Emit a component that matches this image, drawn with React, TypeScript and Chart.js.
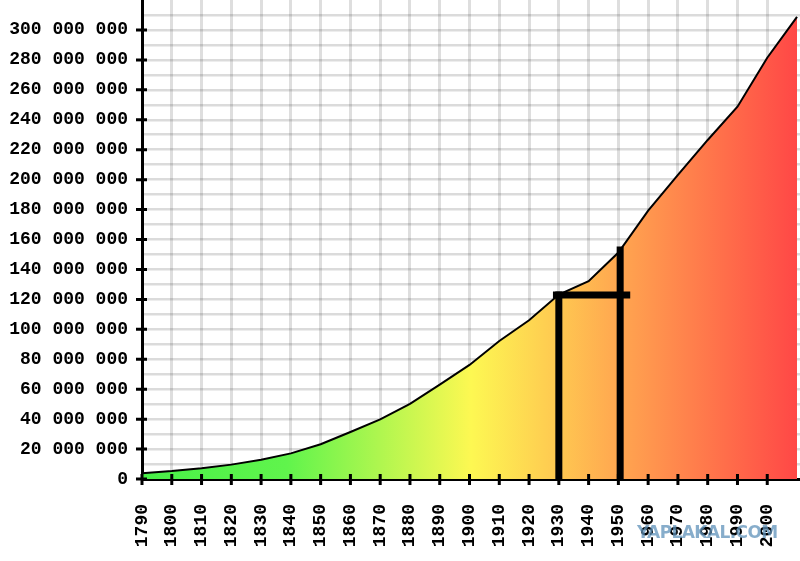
import { useEffect, useRef } from 'react';
import Chart from 'chart.js/auto';

// census years and population in millions
const years = [1790, 1800, 1810, 1820, 1830, 1840, 1850, 1860, 1870, 1880, 1890, 1900, 1910, 1920, 1930, 1940, 1950, 1960, 1970, 1980, 1990, 2000, 2010];
const population = [3.9, 5.3, 7.2, 9.6, 12.9, 17.1, 23.2, 31.4, 39.8, 50.2, 63.0, 76.2, 92.2, 106.0, 123.2, 132.2, 151.3, 179.3, 203.2, 226.5, 248.7, 281.4, 308.7];

// tick labels / grid values
const yearTicks = [1790, 1800, 1810, 1820, 1830, 1840, 1850, 1860, 1870, 1880, 1890, 1900, 1910, 1920, 1930, 1940, 1950, 1960, 1970, 1980, 1990, 2000];
const popTicks = [0, 10, 20, 30, 40, 50, 60, 70, 80, 90, 100, 110, 120, 130, 140, 150, 160, 170, 180, 190, 200, 210, 220, 230, 240, 250, 260, 270, 280, 290, 300, 310];

// hand-drawn marker: two posts and a bar between them
const postYears = [1930, 1950.6];
const postTops = [123, 153];
const barFrom = [1929.2, 1952.8];
const barLevel = 123;

const FONT = { family: '"Liberation Mono", "DejaVu Sans Mono", monospace', size: 18, weight: 'bold' as const };

const tickMarks = {
  id: 'tickMarks',
  afterDraw(chart: Chart) {
    const { ctx } = chart;
    const x = chart.scales.x;
    const y = chart.scales.y;
    ctx.save();
    ctx.strokeStyle = '#000';
    ctx.lineWidth = 3;
    ctx.beginPath();
    y.ticks.forEach((t) => {
      if (t.value % 20 !== 0) return;
      const py = y.getPixelForValue(t.value);
      ctx.moveTo(x.left - 6, py);
      ctx.lineTo(x.left + 5, py);
    });
    x.ticks.forEach((t) => {
      const px = x.getPixelForValue(t.value);
      ctx.moveTo(px, y.bottom - 5);
      ctx.lineTo(px, y.bottom + 6);
    });
    ctx.stroke();
    ctx.restore();
  },
};

const PopulationChart = () => {
  const chartRef = useRef<HTMLCanvasElement>(null);

  useEffect(() => {
    const ctx = chartRef.current?.getContext('2d');
    if (!ctx) return;

    const marker = (data: { x: number; y: number }[]) => ({
      data,
      borderColor: '#000',
      borderWidth: 7,
      borderCapStyle: 'square' as const,
      pointRadius: 0,
      fill: false,
      order: -1,
    });

    const chartInstance = new Chart(ctx, {
      type: 'line',
      data: {
        datasets: [
          {
            data: years.map((yr, i) => ({ x: yr, y: population[i] })),
            borderColor: '#000',
            borderWidth: 2,
            pointRadius: 0,
            tension: 0,
            fill: 'origin',
            backgroundColor: (c: any) => {
              const { chartArea, ctx: g } = c.chart;
              if (!chartArea) return 'rgba(0,0,0,0)';
              const grad = g.createLinearGradient(chartArea.left, 0, chartArea.right, 0);
              grad.addColorStop(0, '#48f048'); // green
              grad.addColorStop(0.22, '#60f44c');
              grad.addColorStop(0.5, '#fdf852'); // yellow
              grad.addColorStop(0.72, '#ffa850'); // orange
              grad.addColorStop(1, '#ff4646'); // red
              return grad;
            },
          },
          marker([{ x: postYears[0], y: 0 }, { x: postYears[0], y: postTops[0] }]),
          marker([{ x: postYears[1], y: 0 }, { x: postYears[1], y: postTops[1] }]),
          marker([{ x: barFrom[0], y: barLevel }, { x: barFrom[1], y: barLevel }]),
        ],
      },
      options: {
        responsive: true,
        maintainAspectRatio: false,
        animation: false,
        layout: { padding: 0 },
        plugins: { legend: { display: false }, tooltip: { enabled: false } },
        scales: {
          x: {
            type: 'linear',
            min: 1790,
            max: 2011,
            z: 1,
            afterBuildTicks: (s: any) => {
              s.ticks = yearTicks.map((v) => ({ value: v }));
            },
            afterFit: (s: any) => {
              s.height = 82;
              s.paddingLeft = 0;
              s.paddingRight = 0;
            },
            grid: { color: 'rgba(0,0,0,0.13)', lineWidth: 3, drawTicks: false },
            border: { color: '#000', width: 3 },
            ticks: {
              autoSkip: false,
              minRotation: 90,
              maxRotation: 90,
              padding: 25,
              color: '#000',
              font: FONT,
              callback: (v: any) => String(v),
            },
          },
          y: {
            type: 'linear',
            min: 0,
            max: 320,
            z: 1,
            afterBuildTicks: (s: any) => {
              s.ticks = popTicks.map((v) => ({ value: v }));
            },
            afterFit: (s: any) => {
              s.width = 142;
              s.paddingTop = 0;
              s.paddingBottom = 0;
            },
            grid: { color: 'rgba(0,0,0,0.14)', lineWidth: 2.5, drawTicks: false },
            border: { color: '#000', width: 3 },
            ticks: {
              autoSkip: false,
              padding: 14,
              color: '#000',
              font: FONT,
              callback: (v: any) => (v % 20 !== 0 ? '' : v === 0 ? '0' : `${v} 000 000`),
            },
          },
        },
      },
      plugins: [tickMarks],
    });

    return () => chartInstance.destroy();
  }, []);

  return (
    <div style={{ position: 'fixed', left: 0, top: 0, width: 800, height: 561, background: '#fff' }}>
      <canvas ref={chartRef} />
      <div
        style={{
          position: 'absolute',
          left: 637,
          top: 522,
          fontFamily: '"DejaVu Sans", sans-serif',
          fontWeight: 'bold',
          fontSize: 17,
          letterSpacing: -0.6,
          color: 'rgba(95,145,185,0.75)',
          pointerEvents: 'none',
        }}
      >
        YAPLAKAL.COM
      </div>
    </div>
  );
};

export default function App() {
  return <PopulationChart />;
}
